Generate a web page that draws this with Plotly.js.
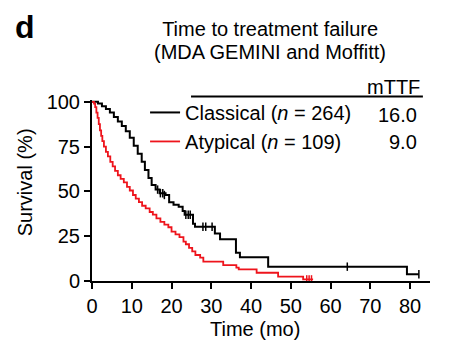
<!DOCTYPE html>
<html>
<head>
<meta charset="utf-8">
<script src="https://cdn.plot.ly/plotly-3.0.1.min.js"></script>
<style>html,body{margin:0;padding:0;background:#fff;}#chart{width:461px;height:344px;}</style>
</head>
<body>
<div id="chart"></div>
<script>
// Classical (n = 264) Kaplan-Meier steps: time (months) and survival (%)
const classicalTime = [0, 1.5, 2.5, 3.5, 4.5, 5.5, 6.5, 7.5, 8.5, 9.5, 10.5, 11.5, 12.5, 13.3, 14.2, 15.0, 16.0, 17.0, 18.5, 19.4, 20.5, 21.8, 22.8, 23.3, 25.4, 25.9, 30.9, 32.2, 36.2, 37.2, 44.3, 79.2, 82.2];
const classicalSurv = [100, 99, 97.5, 96, 94, 91.5, 89, 86.5, 83.5, 80, 75.5, 71, 66.5, 62, 57.5, 53.5, 51, 49, 48, 44, 42.5, 41.5, 39, 37, 32, 30.3, 26.5, 23.3, 15.8, 13.2, 8, 3.8, 3.8];
const classicalCensorTime = [16.5, 17.2, 17.8, 18.2, 23.6, 24.2, 24.7, 27.9, 28.6, 30.2, 64.2, 82.2];
const classicalCensorSurv = [51, 49, 49, 48, 37, 37, 37, 30.3, 30.3, 30.3, 8, 3.8];

// Atypical (n = 109)
const atypicalTime = [0, 0.5, 0.8, 1.1, 1.4, 1.7, 2.0, 2.3, 2.6, 3.0, 3.5, 4.0, 4.6, 5.2, 5.8, 6.5, 7.2, 8.0, 8.8, 9.5, 10.3, 11.0, 11.8, 12.6, 13.5, 14.5, 15.3, 16.2, 17.2, 18.2, 19.2, 20.0, 21.0, 22.0, 23.0, 23.6, 24.4, 25.2, 26.0, 27.2, 28.0, 33.0, 36.3, 36.9, 41.4, 46.8, 53.1, 55.6];
const atypicalSurv = [100, 99, 97, 94, 91, 87.5, 84, 81, 78, 75, 72, 69.5, 66.5, 64, 61.5, 59, 57, 55, 52.5, 50.5, 48, 46, 44, 42, 40.5, 38.5, 37, 35, 33, 31.5, 30, 27.5, 26, 24.5, 22, 20.5, 18.5, 16.5, 14.5, 13, 10.8, 8.9, 7.5, 6.5, 4.6, 2.4, 0.9, 0.9];
const atypicalCensorTime = [54.0, 54.6, 55.2];
const atypicalCensorSurv = [0.9, 0.9, 0.9];

const groupNames = ['Classical (<i>n</i> = 264)', 'Atypical (<i>n</i> = 109)'];
const mTTF = ['16.0', '9.0'];
const xTicks = [0, 10, 20, 30, 40, 50, 60, 70, 80];
const yTicks = [0, 25, 50, 75, 100];

const BLACK = '#000000';
const RED = '#ee141c';
const FONT = 'Liberation Sans, Arial, Helvetica, sans-serif';
const FS = 20;

const traces = [
  {x: classicalTime, y: classicalSurv, type: 'scatter', mode: 'lines', line: {shape: 'hv', color: BLACK, width: 2}, name: groupNames[0], legendgroup: 'a'},
  {x: classicalCensorTime, y: classicalCensorSurv, type: 'scatter', mode: 'markers', marker: {symbol: 'line-ns-open', size: 6, color: BLACK, line: {color: BLACK, width: 1.5}}, showlegend: false, legendgroup: 'a', hoverinfo: 'skip'},
  {x: atypicalTime, y: atypicalSurv, type: 'scatter', mode: 'lines', line: {shape: 'hv', color: RED, width: 1.8}, name: groupNames[1], legendgroup: 'b'},
  {x: atypicalCensorTime, y: atypicalCensorSurv, type: 'scatter', mode: 'markers', marker: {symbol: 'line-ns-open', size: 6, color: RED, line: {color: RED, width: 1.5}}, showlegend: false, legendgroup: 'b', hoverinfo: 'skip'}
];

const layout = {
  width: 461, height: 344,
  margin: {l: 92, r: 31, t: 100, b: 63, pad: 0},
  paper_bgcolor: '#fff', plot_bgcolor: '#fff',
  font: {family: FONT, size: FS, color: '#000'},
  title: {text: 'Time to treatment failure', font: {size: FS, family: FONT, color: '#000'}, x: 0.586, xanchor: 'center', y: 0.916, yanchor: 'middle', xref: 'container', yref: 'container'},
  showlegend: true,
  legend: {x: 0.157, y: 1.039, xanchor: 'left', yanchor: 'top', bgcolor: 'rgba(0,0,0,0)', font: {size: FS, family: FONT}, traceorder: 'grouped', tracegroupgap: 0, itemwidth: 30},
  xaxis: {range: [0, 85], tickvals: xTicks, ticktext: xTicks.map(String), ticks: 'outside', ticklen: 6, tickwidth: 2, tickcolor: '#000', showline: true, linewidth: 2, linecolor: '#000', showgrid: false, zeroline: false, tickfont: {size: FS}},
  yaxis: {range: [0, 101], tickvals: yTicks, ticktext: yTicks.map(String), ticks: 'outside', ticklen: 6, tickwidth: 2, tickcolor: '#000', showline: true, linewidth: 2, linecolor: '#000', showgrid: false, zeroline: false, tickfont: {size: FS}},
  shapes: [
    {type: 'line', xref: 'paper', yref: 'paper', x0: 0.293, x1: 0.979, y0: 1.019, y1: 1.019, line: {color: '#000', width: 2}}
  ],
  annotations: [
    {text: '<b>d</b>', xref: 'paper', yref: 'paper', x: -0.235, y: 1.403, xanchor: 'left', yanchor: 'middle', showarrow: false, font: {size: 32, family: FONT}},
    {text: '(MDA GEMINI and Moffitt)', xref: 'paper', yref: 'paper', x: 0.526, y: 1.265, xanchor: 'center', yanchor: 'middle', showarrow: false, font: {size: FS}},
    {text: 'mTTF', xref: 'paper', yref: 'paper', x: 0.976, y: 1.072, xanchor: 'right', yanchor: 'middle', showarrow: false, font: {size: FS}},
    {text: mTTF[0], xref: 'paper', yref: 'paper', x: 0.966, y: 0.917, xanchor: 'right', yanchor: 'middle', showarrow: false, font: {size: FS}},
    {text: mTTF[1], xref: 'paper', yref: 'paper', x: 0.966, y: 0.770, xanchor: 'right', yanchor: 'middle', showarrow: false, font: {size: FS}},
    {text: 'Time (mo)', xref: 'paper', yref: 'paper', x: 0.482, y: -0.264, xanchor: 'center', yanchor: 'middle', showarrow: false, font: {size: FS}},
    {text: 'Survival (%)', xref: 'paper', yref: 'paper', x: -0.198, y: 0.546, xanchor: 'center', yanchor: 'middle', textangle: -90, showarrow: false, font: {size: FS}}
  ]
};

Plotly.newPlot('chart', traces, layout, {displayModeBar: false, staticPlot: true});
</script>
</body>
</html>
